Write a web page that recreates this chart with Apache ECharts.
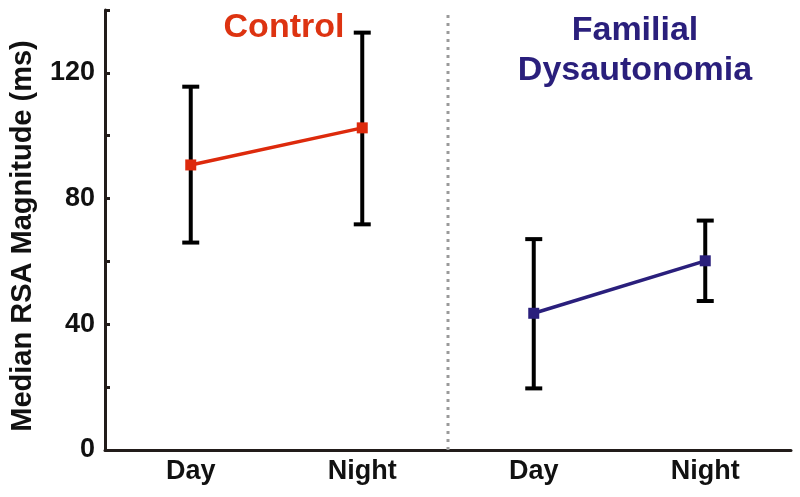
<!DOCTYPE html>
<html>
<head>
<meta charset="utf-8">
<script src="https://cdn.jsdelivr.net/npm/echarts@6/dist/echarts.min.js"></script>
<style>html,body{margin:0;padding:0;background:#fff}#c{width:800px;height:497px}</style>
</head>
<body>
<div id="c"></div>
<script>
// ---- data ----
var categories = ['Day', 'Night', 'Day', 'Night'];
var controlMedian = [90.7, 102.5, '-', '-'];
var fdMedian = ['-', '-', 43.5, 60.2];
var errLow = [66.0, 71.8, 19.6, 47.4];
var errHigh = [115.6, 132.8, 67.1, 73.0];
var yTicks = [0, 40, 80, 120];
var groupTitles = ['Control', 'Familial\nDysautonomia'];
var dividerAt = 2.5;
var yAxisTitle = 'Median RSA Magnitude (ms)';

var errData = categories.map(function (c, i) { return [i, errLow[i], errHigh[i]]; });

var chart = echarts.init(document.getElementById('c'), null, {renderer: 'canvas'});
var axisColor = '#221c1a';
var font = 'Liberation Sans, Arial, Helvetica, sans-serif';

chart.setOption({
  animation: false,
  backgroundColor: '#ffffff',
  title: [
    {text: groupTitles[0], left: 279, top: 6, textAlign: 'center',
     textStyle: {color: '#dd3311', fontSize: 34, fontWeight: 'bold', fontFamily: font}},
    {text: groupTitles[1], left: 630, top: 6, textAlign: 'center',
     textStyle: {color: '#2a1f7c', fontSize: 34, fontWeight: 'bold', fontFamily: font, lineHeight: 40}}
  ],
  grid: {left: 103, right: 9, top: 10, bottom: 47, containLabel: false},
  xAxis: [
    {type: 'category', data: categories, boundaryGap: true,
     axisLine: {lineStyle: {color: axisColor, width: 3}},
     axisTick: {alignWithLabel: true, inside: true, length: 5, lineStyle: {color: axisColor, width: 3}},
     axisLabel: {color: '#111', fontSize: 27, fontWeight: 'bold', fontFamily: font, margin: 8},
     splitLine: {show: false}},
    {type: 'value', min: 0.5, max: 4.5, show: false}
  ],
  yAxis: {
    type: 'value', min: 0, max: 140, interval: 20,
    name: yAxisTitle, nameLocation: 'middle', nameGap: 68,
    nameTextStyle: {color: '#111', fontSize: 29, fontWeight: 'bold', fontFamily: font, padding: [0, 12, 0, 0]},
    axisLine: {show: true, lineStyle: {color: axisColor, width: 3}},
    axisTick: {show: true, inside: true, length: 5, lineStyle: {color: axisColor, width: 3}},
    axisLabel: {color: '#111', fontSize: 27, fontWeight: 'bold', fontFamily: font, margin: 10,
      formatter: function (v) { return yTicks.indexOf(v) >= 0 ? String(v) : ''; }},
    splitLine: {show: false}
  },
  series: [
    {type: 'line', xAxisIndex: 1, data: [[dividerAt, 0], [dividerAt, 140]], symbol: 'none',
     lineStyle: {color: '#9a9a9a', width: 3, type: [3, 5]}, z: 1, silent: true},
    {type: 'custom', data: errData, z: 2,
     renderItem: function (params, api) {
       var x = api.value(0);
       var lo = api.coord([x, api.value(1)]);
       var hi = api.coord([x, api.value(2)]);
       var hw = 8.5;
       var st = {stroke: '#000', lineWidth: 4};
       return {type: 'group', children: [
         {type: 'line', shape: {x1: lo[0], y1: lo[1], x2: hi[0], y2: hi[1]}, style: st},
         {type: 'line', shape: {x1: lo[0] - hw, y1: lo[1], x2: lo[0] + hw, y2: lo[1]}, style: st},
         {type: 'line', shape: {x1: hi[0] - hw, y1: hi[1], x2: hi[0] + hw, y2: hi[1]}, style: st}
       ]};
     }},
    {type: 'line', data: controlMedian, z: 5, symbol: 'rect', symbolSize: 11,
     itemStyle: {color: '#dd2a0c'}, lineStyle: {color: '#dd2a0c', width: 3.5}},
    {type: 'line', data: fdMedian, z: 5, symbol: 'rect', symbolSize: 11,
     itemStyle: {color: '#2a1f7c'}, lineStyle: {color: '#2a1f7c', width: 3.5}}
  ]
});
</script>
</body>
</html>
